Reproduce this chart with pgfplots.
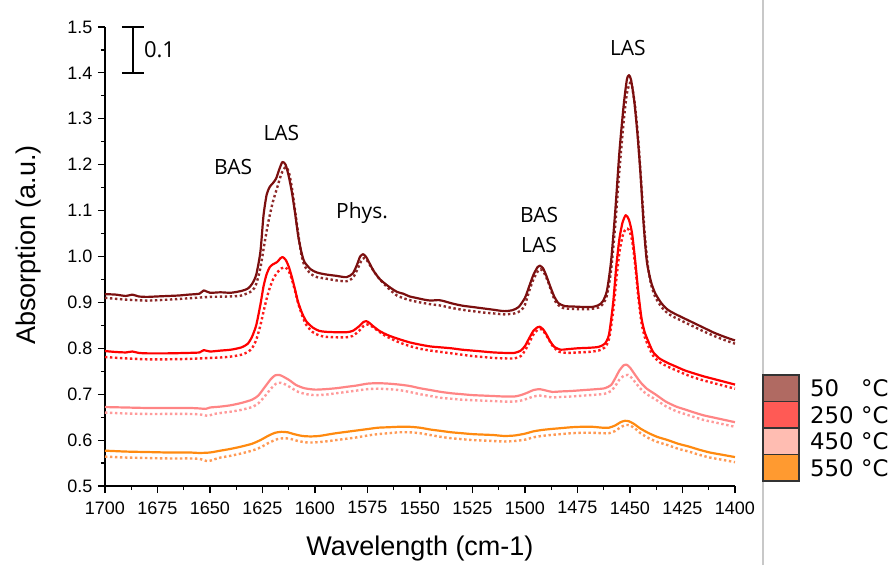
\documentclass[border=0pt]{standalone}
\usepackage{pgfplots}
\pgfplotsset{compat=1.18}
\usepackage{fontspec}
\setmainfont{Liberation Sans}
\newfontfamily\annotfont{Open Sans}
\newfontfamily\legfont{DejaVu Sans}

\definecolor{c50}{HTML}{7B0F0F}
\definecolor{c50d}{HTML}{8E2A2A}
\definecolor{c250}{HTML}{FF0000}
\definecolor{c250d}{HTML}{FF1A1A}
\definecolor{c450}{HTML}{FF8585}
\definecolor{c450d}{HTML}{FF9A9A}
\definecolor{c550}{HTML}{FF8A10}
\definecolor{c550d}{HTML}{FF9A55}
\definecolor{l50}{HTML}{B06A62}
\definecolor{l250}{HTML}{FF5A55}
\definecolor{l450}{HTML}{FFBDB2}
\definecolor{l550}{HTML}{FF9A30}
\definecolor{sepgray}{HTML}{C8C8C8}

\tikzset{
  solidspec/.style={line width=2.2pt, smooth, tension=0.4, line join=round},
  dotspec/.style={line width=2.4pt, smooth, tension=0.4, dash pattern=on 2.4pt off 2.6pt},
}

\begin{document}
\begin{tikzpicture}
\useasboundingbox (-105pt,-79pt) rectangle (786pt,486pt);
\begin{axis}[
  at={(0,0)}, anchor=south west,
  scale only axis, width=630pt, height=459pt,
  xmin=1400, xmax=1700, x dir=reverse,
  ymin=0.5, ymax=1.5,
  axis x line*=bottom, axis y line*=left,
  xtick={1400,1425,...,1700},
  ytick={0.5,0.6,...,1.5},
  minor x tick num=1, minor y tick num=1,
  tick align=outside,
  major tick length=7pt, minor tick length=4pt,
  tick style={black, line width=1.2pt},
  axis line style={black, line width=1.5pt},
  ticklabel style={font=\fontsize{18}{20}\selectfont, black},
  xticklabel style={yshift=-5pt},
  yticklabel style={xshift=-2pt},
  /pgf/number format/assume math mode=true,
  yticklabel style={/pgf/number format/.cd, fixed, fixed zerofill, precision=1},
  xticklabel style={/pgf/number format/.cd, fixed, 1000 sep={}},
  xlabel={Wavelength (cm-1)},
  ylabel={Absorption (a.u.)},
  label style={font=\fontsize{27}{30}\selectfont},
  xlabel style={at={(axis description cs:0.5,-0.1525)}, anchor=base},
  ylabel style={at={(axis description cs:-0.111,0.525)}, anchor=base, rotate=0},
  clip=false,
]

% 50 C, dotted
\addplot[c50d, dotspec] coordinates {
(1700,0.910)(1690,0.906)(1680,0.904)(1670,0.906)(1660,0.909)(1650,0.912)(1640,0.913)(1635,0.915)
(1630,0.925)(1628,0.940)(1626,0.975)(1624,1.030)(1622,1.080)(1620,1.120)(1618,1.150)(1616,1.180)
(1614,1.195)(1612.5,1.185)(1611,1.150)(1609.5,1.100)(1608,1.050)(1606.5,1.005)(1605,0.980)
(1602,0.962)(1599,0.955)(1595,0.952)(1590,0.948)(1585,0.946)(1582,0.953)(1580,0.970)(1578,0.990)
(1576.5,0.997)(1575,0.990)(1573,0.975)(1570,0.955)(1566,0.935)(1561,0.915)(1555,0.905)(1550,0.900)
(1545,0.896)(1540,0.893)(1535,0.888)(1530,0.884)(1525,0.881)(1520,0.878)(1515,0.876)(1510,0.874)
(1505,0.876)(1502,0.882)(1500,0.895)(1498,0.925)(1496,0.950)(1494,0.967)(1492.5,0.972)(1491,0.965)
(1489,0.945)(1487,0.918)(1485,0.898)(1482,0.888)(1478,0.886)(1470,0.885)(1465,0.889)(1463,0.896)
(1461,0.915)(1459,0.970)(1457,1.070)(1455,1.190)(1453,1.295)(1451.5,1.355)(1450,1.378)(1449,1.370)
(1447.5,1.325)(1446,1.250)(1444.5,1.150)(1443,1.050)(1441.5,0.980)(1440,0.940)(1438,0.912)
(1435,0.890)(1432,0.876)(1429,0.868)(1425,0.859)(1420,0.848)(1415,0.837)(1410,0.827)(1405,0.818)(1400,0.810)
};
% 50 C, solid
\addplot[c50, solidspec] coordinates {
(1700,0.918)(1695,0.917)(1690,0.914)(1687,0.917)(1684,0.913)(1680,0.912)(1675,0.913)(1670,0.914)
(1665,0.915)(1660,0.917)(1655,0.919)(1653,0.926)(1650,0.921)(1645,0.922)(1640,0.921)(1635,0.925)
(1632,0.930)(1630,0.940)(1628,0.960)(1626,1.010)(1624.5,1.090)(1623,1.135)(1621.5,1.152)(1620,1.160)
(1618.5,1.170)(1617,1.190)(1615.5,1.206)(1614,1.200)(1612.5,1.175)(1611,1.140)(1609.5,1.095)
(1608,1.045)(1606.5,1.010)(1605,0.988)(1602,0.972)(1599,0.965)(1595,0.961)(1590,0.958)(1585,0.955)
(1582,0.963)(1580,0.982)(1578.5,1.000)(1577,1.005)(1575.5,0.998)(1574,0.985)(1572,0.968)(1569,0.950)
(1565,0.935)(1561,0.923)(1558,0.919)(1555,0.913)(1552,0.910)(1548,0.906)(1545,0.904)(1541,0.905)
(1538,0.902)(1535,0.898)(1530,0.893)(1525,0.890)(1520,0.887)(1515,0.884)(1510,0.881)(1506,0.883)
(1503,0.890)(1500,0.910)(1498,0.935)(1496,0.960)(1494,0.977)(1493,0.980)(1491.5,0.975)(1490,0.960)
(1488,0.935)(1486,0.912)(1484,0.898)(1481,0.892)(1477,0.891)(1472,0.890)(1468,0.890)(1465,0.894)
(1463,0.902)(1461,0.925)(1459,0.990)(1457,1.100)(1455,1.230)(1453,1.330)(1451.5,1.385)(1450.5,1.395)
(1449.5,1.385)(1448,1.340)(1446.5,1.270)(1445,1.180)(1443.5,1.070)(1442,0.990)(1440,0.945)
(1438,0.920)(1435,0.898)(1432,0.884)(1429,0.876)(1425,0.867)(1420,0.856)(1415,0.845)(1410,0.834)
(1405,0.825)(1400,0.817)
};

% 250 C, dotted
\addplot[c250d, dotspec] coordinates {
(1700,0.781)(1690,0.778)(1680,0.776)(1670,0.776)(1660,0.777)(1650,0.779)(1645,0.780)(1640,0.782)
(1635,0.786)(1632,0.792)(1630,0.800)(1628,0.818)(1626,0.850)(1624,0.890)(1622,0.925)(1620,0.950)
(1618,0.965)(1616,0.974)(1614,0.976)(1612.5,0.968)(1611,0.950)(1609.5,0.925)(1608,0.898)(1606,0.870)
(1604,0.850)(1601,0.835)(1598,0.828)(1595,0.825)(1590,0.824)(1585,0.824)(1582,0.827)(1579,0.838)
(1577,0.848)(1575,0.852)(1573,0.848)(1570,0.838)(1566,0.826)(1560,0.813)(1555,0.805)(1550,0.799)
(1545,0.795)(1540,0.792)(1535,0.789)(1530,0.786)(1525,0.783)(1520,0.781)(1515,0.779)(1510,0.778)
(1505,0.778)(1502,0.783)(1500,0.795)(1498,0.812)(1496,0.830)(1494,0.840)(1492.5,0.842)(1491,0.836)
(1489,0.822)(1487,0.806)(1484,0.793)(1480,0.790)(1475,0.791)(1470,0.792)(1465,0.795)(1462,0.802)
(1460,0.820)(1458,0.880)(1456.5,0.950)(1455,1.010)(1453.5,1.045)(1452,1.060)(1450.5,1.058)
(1449,1.035)(1447.5,0.980)(1446,0.910)(1444.5,0.855)(1443,0.825)(1441,0.802)(1439,0.784)(1436,0.770)
(1432,0.760)(1428,0.752)(1424,0.744)(1420,0.737)(1415,0.730)(1410,0.724)(1405,0.718)(1400,0.712)
};
% 250 C, solid
\addplot[c250, solidspec] coordinates {
(1700,0.794)(1695,0.792)(1690,0.791)(1687,0.793)(1684,0.790)(1680,0.789)(1670,0.789)(1660,0.790)
(1655,0.791)(1653,0.796)(1650,0.793)(1645,0.795)(1640,0.797)(1635,0.802)(1632,0.810)(1630,0.825)
(1628,0.850)(1626,0.895)(1624.5,0.935)(1623,0.962)(1621.5,0.977)(1620,0.983)(1618,0.988)
(1616.5,0.996)(1615.5,0.999)(1614,0.993)(1612.5,0.978)(1611,0.955)(1609.5,0.928)(1608,0.900)
(1606,0.875)(1604,0.858)(1601,0.845)(1598,0.838)(1595,0.836)(1590,0.835)(1585,0.835)(1582,0.838)
(1579,0.848)(1577,0.857)(1575.5,0.859)(1574,0.855)(1572,0.847)(1569,0.837)(1565,0.828)(1560,0.820)
(1555,0.813)(1550,0.808)(1545,0.804)(1540,0.802)(1535,0.800)(1530,0.797)(1525,0.795)(1520,0.793)
(1515,0.791)(1510,0.790)(1505,0.790)(1502,0.795)(1500,0.805)(1498,0.822)(1496,0.838)(1494,0.846)
(1493,0.847)(1491.5,0.842)(1490,0.832)(1488,0.815)(1486,0.803)(1483,0.797)(1480,0.798)(1475,0.800)
(1470,0.801)(1465,0.803)(1462,0.810)(1460,0.830)(1458,0.900)(1456.5,0.980)(1455,1.040)(1453.5,1.075)
(1452,1.090)(1450.5,1.080)(1449,1.050)(1447.5,0.990)(1446,0.920)(1444.5,0.865)(1443,0.835)
(1441,0.812)(1439,0.792)(1436,0.778)(1432,0.768)(1428,0.760)(1424,0.752)(1420,0.746)(1415,0.739)
(1410,0.733)(1405,0.727)(1400,0.721)
};

% 450 C, dotted
\addplot[c450d, dotspec] coordinates {
(1700,0.660)(1690,0.658)(1680,0.657)(1670,0.657)(1660,0.657)(1655,0.656)(1651,0.653)(1648,0.657)
(1645,0.659)(1640,0.662)(1635,0.666)(1630,0.672)(1627,0.680)(1624,0.695)(1621,0.712)(1618.5,0.723)
(1616.5,0.725)(1614,0.721)(1611,0.713)(1608,0.705)(1604,0.700)(1600,0.698)(1595,0.699)(1590,0.702)
(1585,0.705)(1580,0.708)(1575,0.711)(1570,0.712)(1565,0.711)(1560,0.709)(1555,0.705)(1550,0.700)
(1545,0.696)(1540,0.692)(1535,0.690)(1530,0.688)(1525,0.687)(1520,0.686)(1515,0.685)(1510,0.684)
(1505,0.684)(1502,0.686)(1499,0.690)(1496,0.695)(1493,0.697)(1490,0.695)(1487,0.693)(1483,0.694)
(1478,0.695)(1472,0.697)(1466,0.699)(1462,0.701)(1459,0.707)(1457,0.718)(1455,0.732)(1453,0.740)
(1451,0.742)(1449.5,0.737)(1447.5,0.726)(1445,0.712)(1442,0.700)(1438,0.689)(1433,0.674)(1428,0.663)
(1424,0.657)(1420,0.651)(1415,0.644)(1410,0.639)(1405,0.634)(1400,0.629)
};
% 450 C, solid
\addplot[c450, solidspec] coordinates {
(1700,0.672)(1690,0.671)(1680,0.670)(1670,0.670)(1660,0.670)(1655,0.669)(1652,0.668)(1650,0.671)
(1645,0.673)(1640,0.676)(1635,0.681)(1630,0.688)(1627,0.697)(1624,0.715)(1621,0.733)(1619,0.741)
(1617,0.742)(1615,0.738)(1612,0.730)(1609,0.720)(1605,0.713)(1600,0.710)(1595,0.711)(1590,0.713)
(1585,0.716)(1580,0.719)(1575,0.723)(1570,0.724)(1565,0.723)(1560,0.721)(1555,0.718)(1550,0.713)
(1545,0.709)(1540,0.705)(1535,0.702)(1530,0.700)(1525,0.698)(1520,0.697)(1515,0.696)(1510,0.695)
(1505,0.695)(1502,0.698)(1499,0.703)(1496,0.709)(1493,0.711)(1490,0.708)(1487,0.705)(1483,0.706)
(1478,0.707)(1472,0.709)(1466,0.711)(1462,0.713)(1459,0.720)(1457,0.735)(1455,0.752)(1453,0.763)
(1451.5,0.764)(1450,0.758)(1448,0.745)(1445,0.726)(1442,0.712)(1438,0.700)(1433,0.684)(1428,0.673)
(1424,0.667)(1420,0.661)(1415,0.654)(1410,0.649)(1405,0.644)(1400,0.639)
};

% 550 C, dotted
\addplot[c550d, dotspec] coordinates {
(1700,0.564)(1690,0.562)(1680,0.561)(1670,0.560)(1660,0.560)(1655,0.559)(1651,0.554)(1648,0.558)
(1645,0.562)(1640,0.566)(1635,0.571)(1630,0.577)(1626,0.584)(1622,0.594)(1618,0.602)(1615,0.604)
(1612,0.603)(1608,0.598)(1604,0.595)(1600,0.595)(1595,0.597)(1590,0.600)(1585,0.603)(1580,0.606)
(1575,0.610)(1570,0.613)(1565,0.615)(1560,0.617)(1555,0.617)(1550,0.615)(1545,0.611)(1540,0.607)
(1535,0.604)(1530,0.602)(1525,0.600)(1520,0.599)(1515,0.598)(1510,0.597)(1505,0.598)(1500,0.601)
(1496,0.606)(1492,0.609)(1488,0.611)(1483,0.613)(1478,0.615)(1473,0.616)(1468,0.616)(1463,0.615)
(1460,0.615)(1457,0.620)(1454.5,0.628)(1452,0.633)(1450,0.632)(1447.5,0.625)(1445,0.615)(1441,0.604)
(1437,0.596)(1432,0.589)(1427,0.581)(1422,0.575)(1417,0.568)(1412,0.562)(1406,0.557)(1400,0.552)
};
% 550 C, solid
\addplot[c550, solidspec] coordinates {
(1700,0.577)(1690,0.575)(1680,0.574)(1670,0.573)(1660,0.573)(1655,0.572)(1650,0.573)(1645,0.577)
(1640,0.581)(1635,0.586)(1630,0.592)(1626,0.600)(1622,0.610)(1619,0.616)(1616,0.618)(1613,0.617)
(1610,0.613)(1606,0.609)(1602,0.608)(1598,0.609)(1594,0.612)(1590,0.615)(1585,0.618)(1580,0.621)
(1575,0.624)(1570,0.627)(1565,0.628)(1560,0.629)(1555,0.629)(1550,0.627)(1545,0.623)(1540,0.620)
(1535,0.617)(1530,0.615)(1525,0.613)(1520,0.612)(1515,0.611)(1510,0.609)(1505,0.610)(1500,0.614)
(1496,0.619)(1492,0.622)(1488,0.624)(1483,0.626)(1478,0.628)(1473,0.629)(1468,0.629)(1463,0.627)
(1460,0.627)(1457,0.632)(1454.5,0.639)(1452.5,0.642)(1450.5,0.641)(1448,0.635)(1445,0.625)
(1441,0.615)(1437,0.607)(1432,0.600)(1427,0.592)(1422,0.586)(1417,0.579)(1412,0.573)(1406,0.568)
(1400,0.563)
};

% band assignments
\begin{scope}[every node/.style={font=\annotfont\fontsize{21}{24}\selectfont, inner sep=0pt}]
\node at (axis cs:1639,1.195) {BAS};
\node at (axis cs:1616,1.269) {LAS};
\node at (axis cs:1577.6,1.095) {Phys.};
\node at (axis cs:1493.3,1.090) {BAS};
\node at (axis cs:1493.3,1.025) {LAS};
\node at (axis cs:1451,1.454) {LAS};
\end{scope}

% scale bar: 0.1 absorption units
\draw[black, line width=1.3pt]
  (axis cs:1686.7,1.4) -- (axis cs:1686.7,1.5)
  ([xshift=-11pt]axis cs:1686.7,1.4) -- ([xshift=11pt]axis cs:1686.7,1.4)
  ([xshift=-11pt]axis cs:1686.7,1.5) -- ([xshift=11pt]axis cs:1686.7,1.5);
\node[anchor=west, inner sep=0pt, font=\annotfont\fontsize{22}{24}\selectfont]
  at (axis cs:1681.5,1.45) {0.1};
\end{axis}

% separator line and temperature key
\draw[sepgray, line width=1.2pt] (658pt,-79pt) -- (658pt,486pt);
\begin{scope}[line width=1.1pt]
\filldraw[fill=l50,  draw=black!80] (658pt,84.5pt) rectangle (694pt,111pt);
\filldraw[fill=l250, draw=black!80] (658pt,58pt)   rectangle (694pt,84.5pt);
\filldraw[fill=l450, draw=black!80] (658pt,31.5pt) rectangle (694pt,58pt);
\filldraw[fill=l550, draw=black!80] (658pt,5pt)    rectangle (694pt,31.5pt);
\end{scope}
\begin{scope}[every node/.style={font=\legfont\fontsize{22.8}{24}\selectfont, inner sep=0pt, anchor=west}]
\node at (705pt,97.75pt) {50};
\node at (705pt,71.25pt) {250};
\node at (705pt,44.75pt) {450};
\node at (705pt,18.25pt) {550};
\node at (756pt,97.75pt) {°C};
\node at (756pt,71.25pt) {°C};
\node at (756pt,44.75pt) {°C};
\node at (756pt,18.25pt) {°C};
\end{scope}
\end{tikzpicture}
\end{document}
